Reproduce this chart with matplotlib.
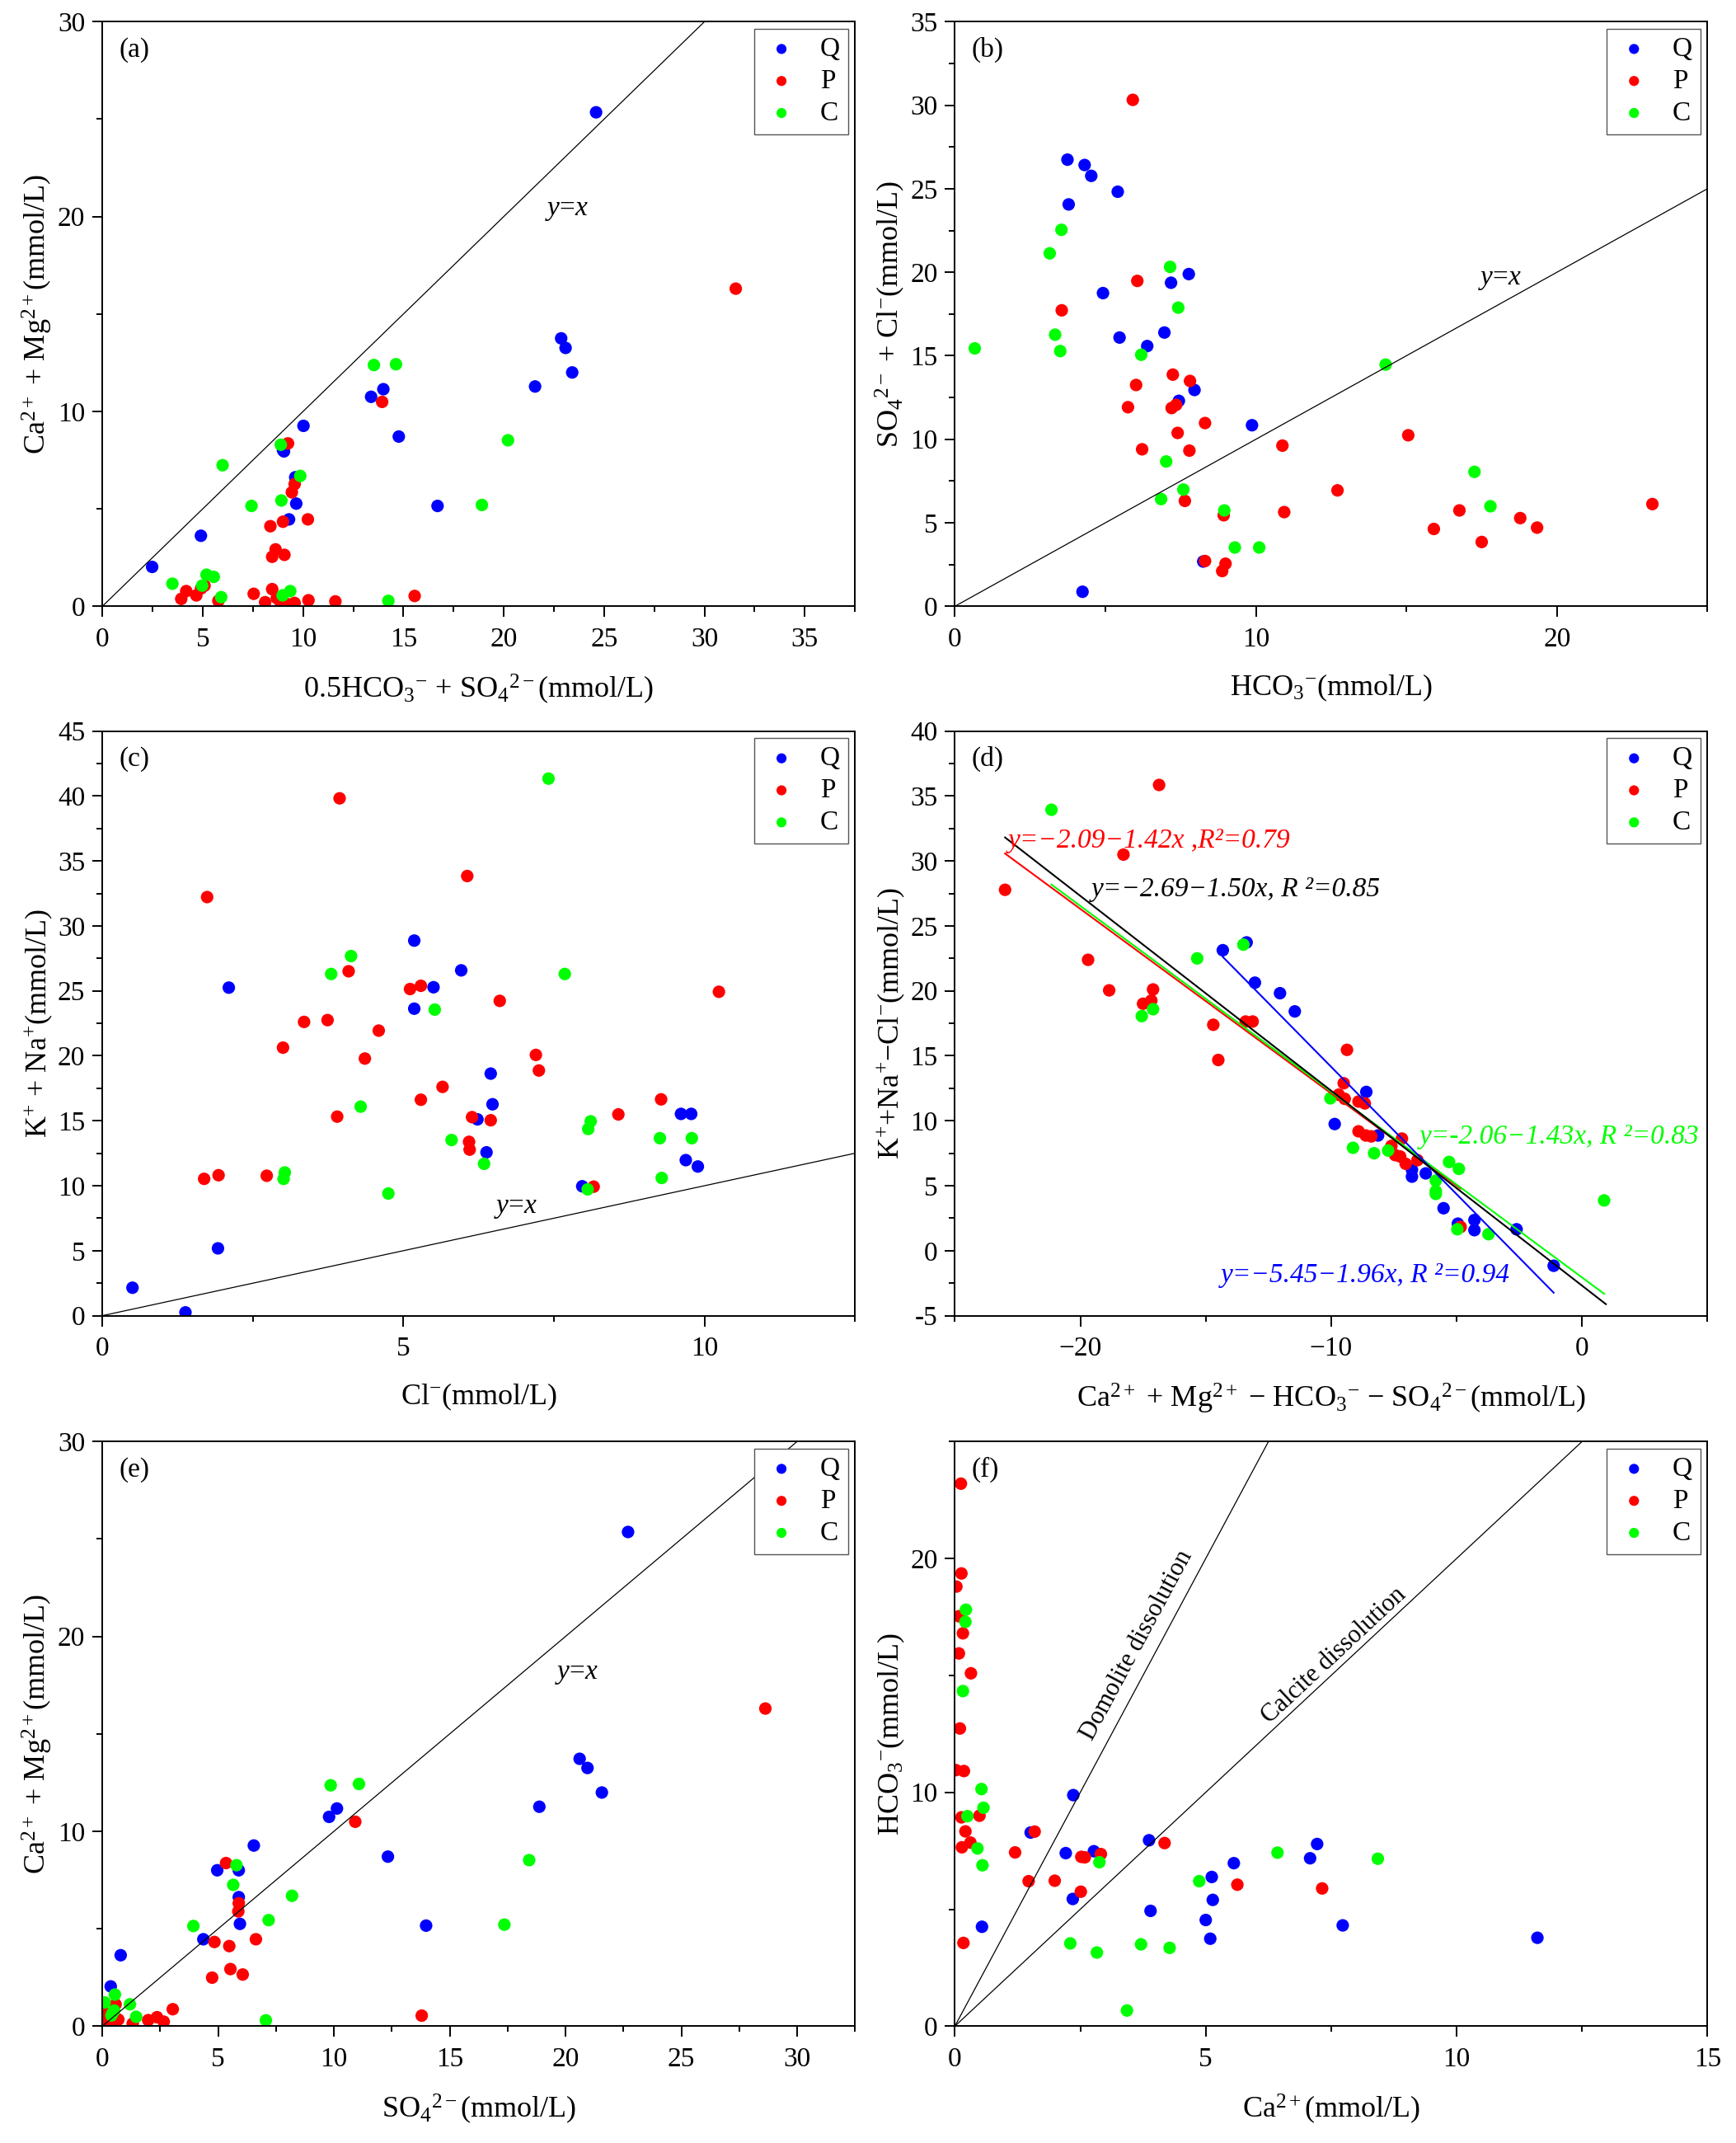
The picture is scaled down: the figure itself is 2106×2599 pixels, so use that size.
import math
import numpy as np
import matplotlib
matplotlib.use('Agg')
import matplotlib.pyplot as plt
from matplotlib.ticker import MultipleLocator, FuncFormatter

plt.rcParams['font.family'] = ['Liberation Serif', 'DejaVu Serif']
plt.rcParams['mathtext.fontset'] = 'custom'
plt.rcParams['mathtext.rm'] = 'Liberation Serif'
plt.rcParams['mathtext.it'] = 'Liberation Serif:italic'
plt.rcParams['mathtext.bf'] = 'Liberation Serif:bold'
plt.rcParams['axes.unicode_minus'] = True

groups = ['Q', 'P', 'C']
colors = {'Q': '#0000FF', 'P': '#FF0000', 'C': '#00FF00'}

# ---------------- (a) 0.5HCO3 + SO4 vs Ca + Mg ----------------
a_Q_x = [24.6, 2.48, 4.91, 10.02, 9.0, 9.05, 9.61, 9.66, 9.30, 13.39, 14.0, 14.77, 16.70, 21.56, 22.86, 23.08, 23.41]
a_Q_y = [25.35, 2.02, 3.62, 9.26, 8.01, 7.95, 6.62, 5.27, 4.46, 10.75, 11.14, 8.71, 5.15, 11.28, 13.75, 13.26, 12.0]
a_P_x = [31.56, 13.94, 9.25, 9.58, 9.44, 10.24, 9.0, 8.37, 8.63, 9.07, 8.46, 5.09, 4.92, 4.18, 3.93, 4.68, 5.78,
         7.54, 8.46, 8.69, 8.11, 8.9, 9.28, 9.58, 10.27, 11.61, 15.56]
a_P_y = [16.3, 10.49, 8.36, 6.27, 5.85, 4.46, 4.34, 4.11, 2.92, 2.64, 2.54, 1.06, 0.92, 0.78, 0.38, 0.56, 0.28,
         0.64, 0.88, 0.42, 0.21, 0.14, 0.10, 0.17, 0.31, 0.25, 0.53]
a_C_x = [5.99, 7.43, 8.89, 8.92, 9.86, 13.53, 14.63, 20.21, 18.91, 3.49, 5.19, 5.55, 4.97, 5.92, 8.98, 9.36, 14.25]
a_C_y = [7.24, 5.15, 8.29, 5.43, 6.69, 12.38, 12.42, 8.52, 5.2, 1.16, 1.62, 1.51, 1.06, 0.47, 0.56, 0.78, 0.28]

# ---------------- (b) HCO3 vs SO4 + Cl ----------------
b_Q_x = [3.74, 4.31, 4.53, 5.41, 3.78, 4.92, 7.18, 7.77, 5.47, 6.39, 6.96, 7.96, 7.44, 9.87, 8.25, 4.24]
b_Q_y = [26.74, 26.42, 25.77, 24.82, 24.06, 18.75, 19.37, 19.89, 16.09, 15.58, 16.39, 12.95, 12.30, 10.84, 2.68, 0.87]
b_P_x = [5.91, 6.06, 3.55, 6.02, 7.24, 7.81, 5.75, 7.20, 7.35, 8.31, 7.40, 6.22, 7.79, 10.88, 15.06, 12.71, 7.64,
         10.94, 8.93, 16.76, 15.91, 17.50, 18.78, 19.34, 23.17, 8.31, 8.99, 8.88]
b_P_y = [30.32, 19.48, 17.72, 13.25, 13.87, 13.49, 11.92, 11.87, 12.06, 10.97, 10.38, 9.40, 9.32, 9.62, 10.24, 6.94,
         6.31, 5.64, 5.45, 5.74, 4.63, 3.85, 5.28, 4.71, 6.12, 2.71, 2.55, 2.11]
b_C_x = [0.66, 3.15, 3.54, 3.33, 3.50, 7.15, 7.42, 6.19, 14.31, 7.02, 7.59, 6.85, 8.95, 17.26, 17.79, 9.30, 10.11]
b_C_y = [15.44, 21.13, 22.54, 16.26, 15.28, 20.32, 17.88, 15.06, 14.47, 8.67, 6.99, 6.42, 5.74, 8.05, 5.99, 3.52, 3.52]

# ---------------- (c) Cl vs K + Na ----------------
c_Q_x = [0.50, 1.38, 1.92, 2.10, 5.18, 5.18, 5.50, 5.96, 6.45, 6.48, 6.23, 6.38, 7.97, 9.61, 9.78, 9.69, 9.89]
c_Q_y = [2.15, 0.25, 5.18, 25.25, 28.87, 23.63, 25.28, 26.58, 18.63, 16.27, 15.11, 12.57, 9.96, 15.53, 15.53, 11.97, 11.48]
c_P_x = [3.94, 1.74, 6.06, 4.09, 5.11, 5.29, 6.60, 10.24, 3.35, 3.74, 4.59, 3.0, 4.36, 7.20, 7.25, 5.65, 5.29, 3.90,
         6.14, 6.45, 6.09, 6.10, 8.57, 9.28, 1.69, 1.93, 2.73, 8.16]
c_P_y = [39.82, 32.22, 33.84, 26.51, 25.14, 25.39, 24.23, 24.93, 22.61, 22.75, 21.94, 20.63, 19.79, 20.07, 18.87,
         17.61, 16.62, 15.32, 15.28, 15.04, 13.38, 12.78, 15.49, 16.65, 10.53, 10.81, 10.77, 9.93]
c_C_x = [7.41, 4.13, 3.80, 7.68, 5.52, 4.29, 5.80, 6.34, 8.11, 8.07, 9.26, 9.79, 9.29, 8.06, 3.03, 3.01, 4.75]
c_C_y = [41.34, 27.68, 26.30, 26.30, 23.56, 16.09, 13.52, 11.69, 14.96, 14.37, 13.66, 13.66, 10.60, 9.72, 11.02, 10.53, 9.40]

# ---------------- (d) Ca+Mg-HCO3-SO4 vs K+Na-Cl ----------------
d_Q_x = [-14.32, -13.37, -13.04, -12.04, -11.45, -8.60, -9.86, -8.13, -6.78, -6.78, -6.23, -5.52, -4.95, -4.29,
         -4.29, -2.61, -1.13]
d_Q_y = [23.13, 23.73, 20.63, 19.82, 18.42, 12.22, 9.75, 8.87, 6.23, 5.70, 5.95, 3.27, 2.08, 2.36, 1.58, 1.65, -1.16]
d_P_x = [-16.86, -18.28, -23.0, -19.69, -18.85, -17.10, -17.50, -17.17, -14.70, -14.50, -13.41, -13.13, -9.37,
         -9.50, -9.70, -9.46, -8.91, -8.66, -8.91, -8.62, -8.40, -7.18, -7.60, -7.45, -7.25, -7.03, -6.56, -4.84]
d_P_y = [35.85, 30.49, 27.78, 22.39, 20.04, 20.11, 19.01, 19.26, 17.39, 14.68, 17.64, 17.64, 15.46, 12.89, 12.01,
         11.69, 11.48, 11.34, 9.19, 8.87, 8.80, 8.63, 8.06, 7.36, 7.25, 6.69, 6.97, 1.83]
d_C_x = [-21.15, -13.50, -15.34, -17.55, -17.10, -10.03, -9.13, -8.29, -7.73, -5.30, -4.91, -5.83, -5.83, -5.83,
         -4.97, -3.73, 0.88]
d_C_y = [33.94, 23.56, 22.50, 18.06, 18.59, 11.73, 7.92, 7.50, 7.71, 6.83, 6.30, 5.39, 4.58, 4.37, 1.65, 1.27, 3.87]

# regression fits shown in (d): group, intercept, slope, label
fit_groups = ['P', 'C', 'Q', 'All']
fit_intercepts = [-2.09, -2.06, -5.45, -2.69]
fit_slopes = [-1.42, -1.43, -1.96, -1.50]
fit_labels = ['y=−2.09−1.42x ,R²=0.79', 'y=-2.06−1.43x, R ²=0.83',
              'y=−5.45−1.96x, R ²=0.94', 'y=−2.69−1.50x, R ²=0.85']
fit_label_pos = [(-22.87, 31.58), (-6.48, 8.77), (-14.41, -1.90), (-19.56, 27.78)]

# ---------------- (e) SO4 vs Ca + Mg ----------------
e_Q_x = [22.70, 0.36, 0.79, 4.36, 4.96, 5.89, 5.89, 5.94, 6.54, 9.79, 10.13, 12.33, 13.98, 18.87, 20.61, 20.95, 21.57]
e_Q_y = [25.36, 2.04, 3.64, 4.46, 8.0, 8.0, 6.62, 5.25, 9.27, 10.74, 11.17, 8.70, 5.16, 11.26, 13.72, 13.25, 11.99]
e_P_x = [28.63, 10.92, 5.34, 5.89, 5.87, 6.63, 4.84, 5.48, 5.53, 6.06, 4.74, 3.04, 13.79, 0.0, 0.04, 0.19, 0.48,
         0.57, 0.69, 0.02, 1.31, 1.98, 2.36, 2.65, 0.10, 0.30]
e_P_y = [16.30, 10.49, 8.37, 6.31, 5.89, 4.46, 4.32, 4.11, 2.93, 2.65, 2.49, 0.87, 0.54, 0.84, 0.46, 0.27, 0.20,
         1.12, 0.34, 0.34, 0.13, 0.31, 0.46, 0.23, 0.60, 0.12]
e_C_x = [9.86, 11.08, 5.79, 5.65, 8.19, 7.18, 3.93, 17.36, 18.43, 7.06, 0.54, 0.10, 1.19, 0.51, 0.39, 1.46, 0.45]
e_C_y = [12.36, 12.43, 8.26, 7.25, 6.69, 5.44, 5.14, 5.21, 8.52, 0.30, 1.62, 1.22, 1.12, 0.80, 0.55, 0.48, 0.70]

# ---------------- (f) Ca vs HCO3 ----------------
f_Q_x = [2.36, 1.51, 2.21, 2.77, 3.87, 2.35, 3.90, 0.54, 5.12, 5.14, 5.56, 5.0, 5.09, 7.08, 7.22, 7.73, 11.61]
f_Q_y = [9.88, 8.28, 7.40, 7.48, 7.95, 5.44, 4.93, 4.25, 6.38, 5.40, 6.97, 4.54, 3.74, 7.18, 7.79, 4.31, 3.78]
f_P_x = [0.12, 0.13, 0.03, 0.08, 0.16, 0.08, 0.32, 0.10, 0.02, 0.18, 0.13, 0.49, 0.21, 0.31, 0.14, 0.17, 1.59,
         1.20, 2.52, 2.59, 2.91, 4.18, 1.47, 1.99, 2.51, 5.63, 7.32]
f_P_y = [23.2, 19.36, 18.8, 17.53, 16.8, 15.94, 15.09, 12.73, 10.95, 10.91, 8.93, 9.0, 8.33, 7.85, 7.65, 3.56, 8.32,
         7.43, 7.24, 7.22, 7.36, 7.83, 6.2, 6.22, 5.75, 6.05, 5.89]
f_C_x = [0.22, 0.21, 0.16, 0.53, 0.57, 0.25, 0.45, 0.55, 2.88, 4.87, 6.43, 8.43, 2.30, 2.83, 3.71, 4.28, 3.43]
f_C_y = [17.81, 17.29, 14.33, 10.14, 9.34, 8.98, 7.6, 6.88, 7.01, 6.20, 7.42, 7.16, 3.54, 3.15, 3.50, 3.35, 0.67]

# dissolution reference lines in (f): HCO3/Ca ratios
dissolution_names = ['Domolite dissolution', 'Calcite dissolution']
dissolution_ratios = [4.0, 2.0]
dissolution_label_pos = [(3.62, 16.3), (7.55, 15.85)]

# ---------------------------------------------------------------
W, H = 2106, 2599
fig = plt.figure(figsize=(W / 100, H / 100), dpi=100)
AX_W, AX_H = 913, 709
col_left = [124.2, 1158.4]
row_top = [26.3, 886.6, 1748.3]

TICK_FS = 24
LABEL_FS = 26
LEG_FS = 24


def make_ax(col, row):
    l = col_left[col] / W
    b = 1 - (row_top[row] + AX_H) / H
    return fig.add_axes([l, b, AX_W / W, AX_H / H])


def style(ax, xlim, ylim, xmaj, xmin, ymaj, ymin, xlabel, ylabel, tag):
    ax.set_xlim(xlim)
    ax.set_ylim(ylim)
    ax.xaxis.set_major_locator(MultipleLocator(xmaj))
    ax.xaxis.set_minor_locator(MultipleLocator(xmin))
    ax.yaxis.set_major_locator(MultipleLocator(ymaj))
    ax.yaxis.set_minor_locator(MultipleLocator(ymin))
    ax.tick_params(which='both', direction='out', top=False, right=False, width=1.4)
    ax.tick_params(which='major', length=9, labelsize=TICK_FS)
    ax.tick_params(which='minor', length=5)
    ax.tick_params(axis='x', which='major', pad=9)
    ax.tick_params(axis='y', which='major', pad=6)
    for s in ax.spines.values():
        s.set_linewidth(1.4)
    ax.set_xlabel(xlabel, fontsize=LABEL_FS, labelpad=18)
    ax.set_ylabel(ylabel, fontsize=LABEL_FS, labelpad=3)
    ax.text(0.022, 0.952, tag, transform=ax.transAxes, fontsize=24, va='center', ha='left')


def scatter_groups(ax, xs, ys):
    for g, x, y in zip(groups, xs, ys):
        ax.scatter(x, y, s=120, color=colors[g], edgecolors='none', label=g, zorder=2)
    leg = ax.legend(loc='upper right', fontsize=LEG_FS, frameon=True, fancybox=False,
                    edgecolor='#555555', borderpad=0.3, labelspacing=0.25, handletextpad=0.7,
                    borderaxespad=0.25, markerscale=0.8, handlelength=1.4)
    leg.get_frame().set_linewidth(1.0)
    leg.get_frame().set_alpha(1.0)


def yx_line(ax, label_pos):
    lim = np.array([0.0, max(ax.get_xlim()[1], ax.get_ylim()[1])])
    ax.plot(lim, lim, color='black', lw=0.9, zorder=3)
    ax.text(label_pos[0], label_pos[1], '$y$=$x$', fontsize=24, ha='center', va='center')


# (a)
ax = make_ax(0, 0)
scatter_groups(ax, [a_Q_x, a_P_x, a_C_x], [a_Q_y, a_P_y, a_C_y])
style(ax, (0, 37.5), (0, 30), 5, 2.5, 10, 5,
      '0.5HCO$_3{}^{-}$ + SO$_4{}^{2-}$(mmol/L)', 'Ca$^{2+}$ + Mg$^{2+}$(mmol/L)', '(a)')
yx_line(ax, (23.14, 20.35))

# (b)
ax = make_ax(1, 0)
scatter_groups(ax, [b_Q_x, b_P_x, b_C_x], [b_Q_y, b_P_y, b_C_y])
style(ax, (0, 25), (0, 35), 10, 5, 5, 2.5,
      'HCO$_3{}^{-}$(mmol/L)', 'SO$_4{}^{2-}$ + Cl$^{-}$(mmol/L)', '(b)')
yx_line(ax, (18.09, 19.57))

# (c)
ax = make_ax(0, 1)
scatter_groups(ax, [c_Q_x, c_P_x, c_C_x], [c_Q_y, c_P_y, c_C_y])
style(ax, (0, 12.5), (0, 45), 5, 2.5, 5, 2.5,
      'Cl$^{-}$(mmol/L)', 'K$^{+}$ + Na$^{+}$(mmol/L)', '(c)')
yx_line(ax, (6.86, 8.31))

# (d)
ax = make_ax(1, 1)
scatter_groups(ax, [d_Q_x, d_P_x, d_C_x], [d_Q_y, d_P_y, d_C_y])
style(ax, (-25, 5), (-5, 40), 10, 5, 5, 2.5,
      'Ca$^{2+}$ + Mg$^{2+}$ − HCO$_3{}^{-}$ − SO$_4{}^{2-}$(mmol/L)', 'K$^{+}$+Na$^{+}$−Cl$^{-}$(mmol/L)', '(d)')
ax.xaxis.set_major_formatter(FuncFormatter(lambda v, p: f'{v:g}'.replace('-', '−')))
ax.yaxis.set_major_formatter(FuncFormatter(lambda v, p: f'{v:g}'))
group_x = {'Q': d_Q_x, 'P': d_P_x, 'C': d_C_x, 'All': d_Q_x + d_P_x + d_C_x}
line_colors = {'Q': '#0000FF', 'P': '#FF0000', 'C': '#00FF00', 'All': '#000000'}
for g, b0, b1, lab, pos in zip(fit_groups, fit_intercepts, fit_slopes, fit_labels, fit_label_pos):
    xs = np.array([min(group_x[g]), max(group_x[g])])
    if g == 'All':
        xs[1] = xs[1] + 0.07
    ax.plot(xs, b0 + b1 * xs, color=line_colors[g], lw=1.5, zorder=3)
    ax.text(pos[0], pos[1], lab, color=line_colors[g], fontsize=24, style='italic',
            ha='left', va='center', zorder=4)

# (e)
ax = make_ax(0, 2)
scatter_groups(ax, [e_Q_x, e_P_x, e_C_x], [e_Q_y, e_P_y, e_C_y])
style(ax, (0, 32.5), (0, 30), 5, 2.5, 10, 5,
      'SO$_4{}^{2-}$(mmol/L)', 'Ca$^{2+}$ + Mg$^{2+}$(mmol/L)', '(e)')
yx_line(ax, (20.47, 18.11))

# (f)
ax = make_ax(1, 2)
scatter_groups(ax, [f_Q_x, f_P_x, f_C_x], [f_Q_y, f_P_y, f_C_y])
style(ax, (0, 15), (0, 25), 5, 2.5, 10, 5,
      'Ca$^{2+}$(mmol/L)', 'HCO$_3{}^{-}$(mmol/L)', '(f)')
xl = np.array(ax.get_xlim())
px_per_x = AX_W / (xl[1] - xl[0])
px_per_y = AX_H / (ax.get_ylim()[1] - ax.get_ylim()[0])
for name, k, pos in zip(dissolution_names, dissolution_ratios, dissolution_label_pos):
    ax.plot(xl, k * xl, color='black', lw=0.9, zorder=3)
    ang = math.degrees(math.atan(k * px_per_y / px_per_x))
    ax.text(pos[0], pos[1], name, fontsize=22, rotation=ang, rotation_mode='anchor',
            ha='center', va='center')

fig.savefig('out.png', dpi=100)
